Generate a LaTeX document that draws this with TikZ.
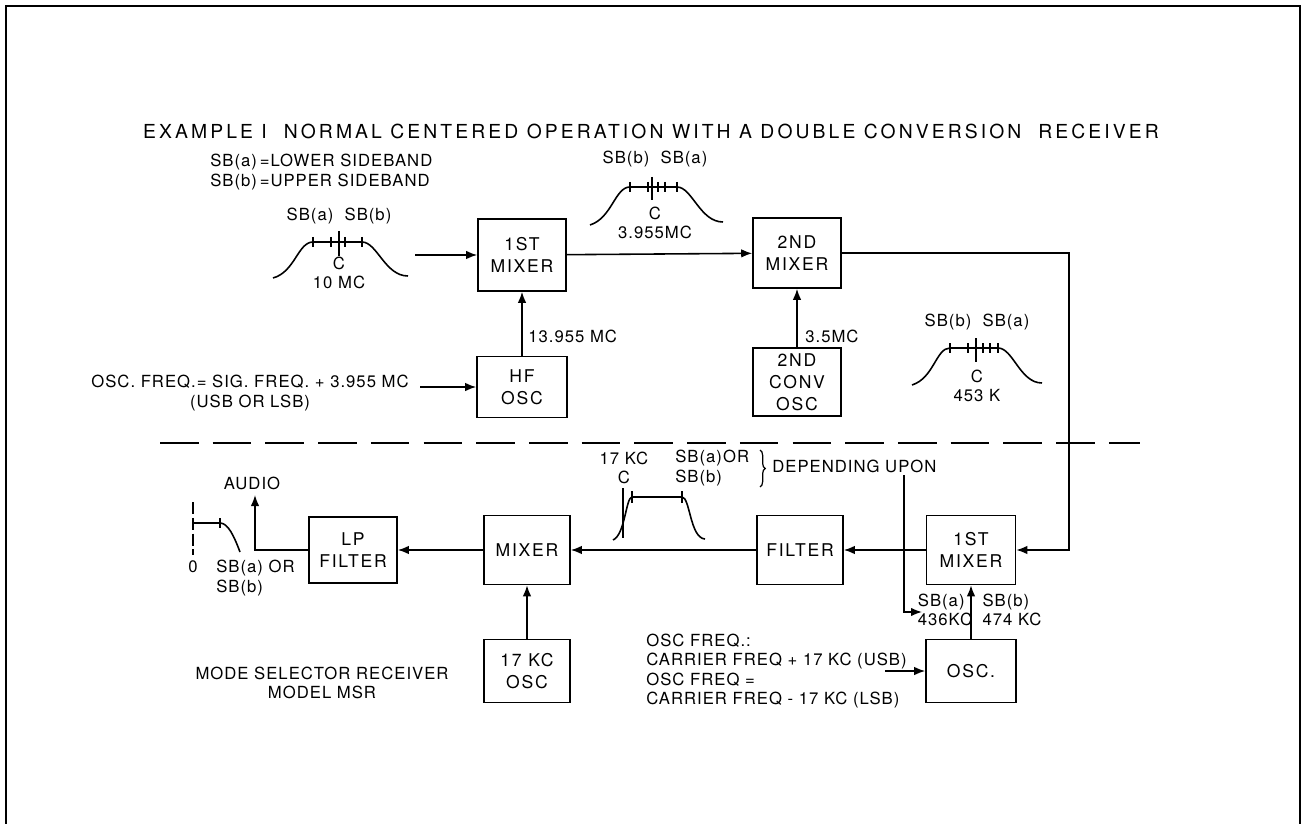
\documentclass[tikz,border=0pt]{standalone}
\usepackage{fontspec}
\setmainfont{TeX Gyre Heros}[LetterSpace=6]
\newfontfamily\titlefont{TeX Gyre Heros}[LetterSpace=16]
\newfontfamily\boxfont{TeX Gyre Heros}[LetterSpace=10]
\usetikzlibrary{arrows.meta,decorations.pathreplacing}
\tikzset{
  blk/.style={draw=black, line width=0.9pt, inner sep=0pt, align=center,
    font=\boxfont\fontsize{10}{12.5}\selectfont},
  lbl/.style={inner sep=0pt, align=center, font=\fontsize{9.5}{11}\selectfont},
  arr/.style={line width=0.9pt, -{Latex[length=0.22cm,width=0.17cm]}},
  wire/.style={line width=0.9pt},
  band/.style={line width=0.9pt}
}
\begin{document}
\begin{tikzpicture}[x=0.02cm,y=-0.02cm]
\useasboundingbox (0,0) rectangle (1305,824);
% frame
\draw[line width=1pt] (6,824) -- (6,6) -- (1300,6) -- (1300,824);
% title
\node[lbl, font=\titlefont\fontsize{11}{13}\selectfont] (title) at (651,131) {EXAMPLE I\ \ NORMAL CENTERED OPERATION WITH A DOUBLE CONVERSION\ \ RECEIVER};

% upper section: blocks
\node[blk, minimum width=1.76cm, minimum height=1.44cm] (mixA) at (522,255) {1ST\\MIXER};
\node[blk, minimum width=1.76cm, minimum height=1.40cm] (mixB) at (797,253) {2ND\\MIXER};
\node[blk, minimum width=1.80cm, minimum height=1.22cm] (hfosc) at (522,387) {HF\\OSC};
\node[blk, minimum width=1.76cm, minimum height=1.36cm] (convosc) at (797,382) {2ND\\CONV\\OSC};

% lower section: blocks
\node[blk, minimum width=1.78cm, minimum height=1.38cm] (mixC) at (971,550) {1ST\\MIXER};
\node[blk, minimum width=1.72cm, minimum height=1.38cm] (filter) at (800,550) {FILTER};
\node[blk, minimum width=1.72cm, minimum height=1.38cm] (mixer) at (527,550) {MIXER};
\node[blk, minimum width=1.76cm, minimum height=1.32cm] (lpf) at (353,550) {LP\\FILTER};
\node[blk, minimum width=1.72cm, minimum height=1.26cm] (osc17) at (527,671) {17 KC\\OSC};
\node[blk, minimum width=1.80cm, minimum height=1.26cm] (osc) at (971,671) {OSC.};

% labels
\node[lbl, align=left, anchor=west] (sbdef) at (210,172) {SB(a)\,=LOWER SIDEBAND\\SB(b)\,=UPPER SIDEBAND};
\node[lbl] (sbin) at (339,216) {SB(a)\ \ SB(b)};
\node[lbl] (cin) at (339,273) {C\\10 MC};
\node[lbl] (sbmid) at (655,159) {SB(b)\ \ SB(a)};
\node[lbl] (cmid) at (655,223) {C\\3.955MC};
\node[lbl, anchor=west] (f13) at (528,336) {13.955 MC};
\node[lbl, anchor=west] (f35) at (805,336) {3.5MC};
\node[lbl] (hfnote) at (250,393) {OSC. FREQ.= SIG. FREQ. + 3.955 MC\\(USB OR LSB)};
\node[lbl] (sbif) at (977,322) {SB(b)\ \ SB(a)};
\node[lbl] (cif) at (977,386) {C\\453 K};
\node[lbl] (f17) at (624,468) {17 KC\\C};
\node[lbl, align=left, anchor=west] (sbor) at (675,468) {SB(a)OR\\SB(b)};
\node[lbl, anchor=west] (depend) at (772,466) {DEPENDING UPON};
\node[lbl] (audio) at (252,483) {AUDIO};
\node[lbl] (zero) at (193,567) {0};
\node[lbl, align=left, anchor=west] (sbaud) at (216,578) {SB(a) OR\\SB(b)};
\node[lbl] (msr) at (322,683) {MODE SELECTOR RECEIVER\\MODEL MSR};
\node[lbl, align=left, anchor=west] (oscnote) at (646,671) {OSC FREQ.:\\CARRIER FREQ + 17 KC (USB)\\OSC FREQ =\\CARRIER FREQ - 17 KC (LSB)};
\node[lbl, align=left] (sblo) at (945,610) {SB(a)\\436KC};
\node[lbl, align=left] (sbhi) at (1012,610) {SB(b)\\474 KC};

% free ends
\coordinate (inA) at (415,255);
\coordinate (inHF) at (420,387);
\coordinate (turn) at (1069,253);
\coordinate (dep) at (904,475);
\coordinate (pick) at (922,612);
\coordinate (inOSC) at (885,671);
\coordinate (out) at (255,495);

% connectors
\draw[arr] (inA) -- (mixA);
\draw[arr] (mixA) -- (mixB);
\draw[arr] (hfosc) -- (mixA);
\draw[arr] (inHF) -- (hfosc);
\draw[arr] (convosc) -- (mixB);
\draw[arr] (mixB.east) -- (turn) |- (mixC.east);
\draw[arr] (mixC) -- (filter);
\draw[arr] (dep) |- (pick);
\draw[arr] (osc) -- (mixC);
\draw[arr] (inOSC) -- (osc);
\draw[arr] (filter) -- (mixer);
\draw[arr] (osc17) -- (mixer);
\draw[arr] (mixer) -- (lpf);
\draw[arr] (lpf.west) -| (out);

% separator
\draw[line width=0.8pt, dash pattern=on 22pt off 8pt] (160,443) -- (1140,443);

% pass bands
\draw[band] (273,278) .. controls (295,272) and (298,242) .. (313,242) -- (362,242) .. controls (377,242) and (385,276) .. (408,276);
\foreach \t in {313,331,345,362} \draw[band] (\t,237) -- (\t,247);
\draw[band] (339,231) -- (339,256);
\draw[band] (590,225) .. controls (612,218) and (615,187) .. (630,187) -- (677,187) .. controls (692,187) and (700,222) .. (723,222);
\foreach \t in {630,648,658,665,677} \draw[band] (\t,182) -- (\t,192);
\draw[band] (652,177) -- (652,200);
\draw[band] (912,385) .. controls (934,378) and (936,348) .. (950,348) -- (998,348) .. controls (1013,348) and (1020,383) .. (1042,383);
\foreach \t in {950,968,983,990,998} \draw[band] (\t,343) -- (\t,353);
\draw[band] (976,338) -- (976,362);
\draw[band] (613,540) .. controls (625,535) and (626,497) .. (632,497) -- (682,497) .. controls (690,497) and (690,538) .. (705,539);
\foreach \t in {632,682} \draw[band] (\t,491) -- (\t,503);
\draw[band] (623,488) -- (623,538);
\draw[decorate, decoration={brace, amplitude=3pt}, line width=0.7pt] (760,450) -- (760,487);
% audio band
\draw[line width=0.7pt, dash pattern=on 7pt off 2pt] (193,502) -- (193,555);
\draw[band] (193,523) -- (220,523) .. controls (228,523) and (234,536) .. (240,552);
\draw[band] (220,518) -- (220,528);
\end{tikzpicture}
\end{document}
